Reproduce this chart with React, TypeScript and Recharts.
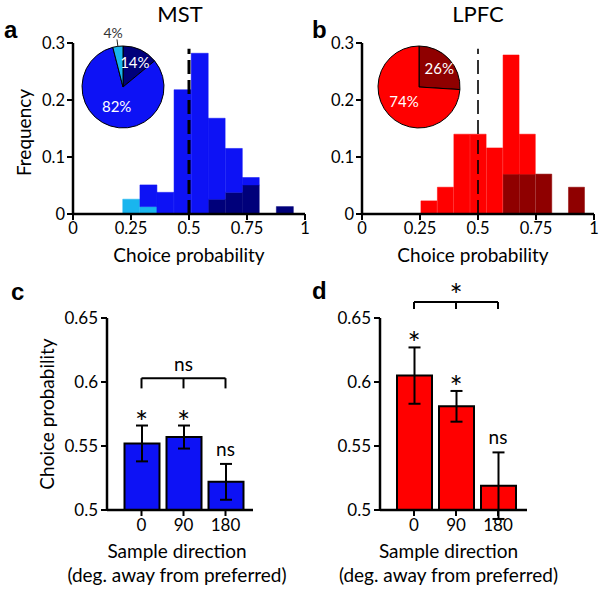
import React from 'react';
import {
  ComposedChart,
  Bar,
  XAxis,
  YAxis,
  ReferenceLine,
  PieChart,
  Pie,
  Cell,
  ErrorBar,
  Line,
} from 'recharts';

const FONT = 'Lato, "Open Sans", sans-serif';

// ---------- Panel a: MST histogram ----------
const mstBinCenters = [0.251, 0.325, 0.398, 0.472, 0.546, 0.619, 0.693, 0.766, 0.84, 0.913];
const mstNonSig = [0, 0.038, 0.038, 0.218, 0.282, 0.142, 0.077, 0.013, 0, 0];
const mstSigLow = [0.026, 0.013, 0, 0, 0, 0, 0, 0, 0, 0];
const mstSigHigh = [0, 0, 0, 0, 0, 0.026, 0.038, 0.051, 0, 0.013];

// ---------- Panel b: LPFC histogram ----------
const lpfcBinCenters = [0.289, 0.36, 0.431, 0.501, 0.572, 0.643, 0.713, 0.784, 0.854, 0.925];
const lpfcNonSig = [0.023, 0.047, 0.14, 0.14, 0.116, 0.209, 0.07, 0, 0, 0];
const lpfcSigLow = [0, 0, 0, 0, 0, 0, 0, 0, 0, 0];
const lpfcSigHigh = [0, 0, 0, 0, 0, 0.07, 0.07, 0.07, 0, 0.047];

const histTicks = [0, 0.25, 0.5, 0.75, 1];
const freqTicks = [0, 0.1, 0.2, 0.3];
const chanceLevel = 0.5;
const chanceLineTop = 0.29;

// ---------- Pie insets ----------
const mstPieNames = ['sigHigh', 'nonSig', 'sigLow'];
const mstPieValues = [14, 82, 4];
const lpfcPieNames = ['sigHigh', 'nonSig'];
const lpfcPieValues = [26, 74];

// ---------- Panels c, d: choice probability by direction ----------
const directions = ['0', '90', '180'];
const mstCP = [0.552, 0.557, 0.522];
const mstSEM = [0.014, 0.009, 0.014];
const mstSig = ['*', '*', 'ns'];
const mstGroupSig = 'ns';
const lpfcCP = [0.605, 0.581, 0.519];
const lpfcSEM = [0.022, 0.012, 0.026];
const lpfcSig = ['*', '*', 'ns'];
const lpfcGroupSig = '*';
const cpTicks = [0.5, 0.55, 0.6, 0.65];

// ---------- Colors ----------
const MST_COLORS = { nonSig: '#0d12f5', sigHigh: '#00007a', sigLow: '#19b5ee' };
const LPFC_COLORS = { nonSig: '#ff0000', sigHigh: '#8f0000', sigLow: '#ff8080' };

const mstHist = mstBinCenters.map((x, i) => ({
  x,
  sigLow: mstSigLow[i],
  sigHigh: mstSigHigh[i],
  nonSig: mstNonSig[i],
}));
const lpfcHist = lpfcBinCenters.map((x, i) => ({
  x,
  sigLow: lpfcSigLow[i],
  sigHigh: lpfcSigHigh[i],
  nonSig: lpfcNonSig[i],
}));
const mstPieData = mstPieNames.map((name, i) => ({ name, value: mstPieValues[i] }));
const lpfcPieData = lpfcPieNames.map((name, i) => ({ name, value: lpfcPieValues[i] }));
const mstBars = directions.map((dir, i) => ({
  dir,
  cp: mstCP[i],
  sem: mstSEM[i],
  top: mstCP[i] + mstSEM[i],
  sig: mstSig[i],
}));
const lpfcBars = directions.map((dir, i) => ({
  dir,
  cp: lpfcCP[i],
  sem: lpfcSEM[i],
  top: lpfcCP[i] + lpfcSEM[i],
  sig: lpfcSig[i],
}));

const histTickStyle = { fontSize: 16.5, fill: '#000', fontFamily: FONT };
const cpTickStyle = { fontSize: 17, fill: '#000', fontFamily: FONT };
const fmt = (v: number) => String(v);

const rotLabel = (text: string, baseX: number, dy = 0) => (props: any) => {
  const vb = props.viewBox || {};
  const x = (vb.x || 0) + baseX;
  const y = (vb.y || 0) + (vb.height || 0) / 2 + dy;
  return (
    <text
      x={x}
      y={y}
      transform={`rotate(-90, ${x}, ${y})`}
      textAnchor="middle"
      fontSize={19}
      fontFamily={FONT}
      fill="#000"
    >
      {text}
    </text>
  );
};

const xLabel = (lines: string[], firstDy: number, gap: number, dx = 0) => (props: any) => {
  const vb = props.viewBox || {};
  const x = (vb.x || 0) + (vb.width || 0) / 2 + dx;
  const y = vb.y || 0;
  return (
    <g>
      {lines.map((l, i) => (
        <text
          key={i}
          x={x}
          y={y + firstDy + i * gap}
          textAnchor="middle"
          fontSize={19}
          fontFamily={FONT}
          fill="#000"
        >
          {l}
        </text>
      ))}
    </g>
  );
};

function Histogram({ data, colors, left, width, yAxisWidth, lineWidth, dash, labelDx }: any) {
  return (
    <div style={{ position: 'absolute', left, top: 0 }}>
      <ComposedChart
        width={width}
        height={275}
        data={data}
        margin={{ top: 43, right: width - (yAxisWidth + 232), bottom: 11, left: 0 }}
        barCategoryGap={0}
        barGap={0}
      >
        <XAxis
          type="number"
          dataKey="x"
          domain={[0, 1]}
          ticks={histTicks}
          tickFormatter={fmt}
          axisLine={{ stroke: '#000', strokeWidth: 2.5 }}
          tickLine={{ stroke: '#000', strokeWidth: 2 }}
          tickSize={6}
          tickMargin={2}
          tick={histTickStyle}
          height={50}
          interval={0}
          label={xLabel(['Choice probability'], 48, 0, labelDx)}
        />
        <YAxis
          type="number"
          domain={[0, 0.3]}
          ticks={freqTicks}
          tickFormatter={fmt}
          axisLine={{ stroke: '#000', strokeWidth: 2.5 }}
          tickLine={{ stroke: '#000', strokeWidth: 2 }}
          tickSize={6}
          tickMargin={2}
          tick={histTickStyle}
          width={yAxisWidth}
          interval={0}
          label={yAxisWidth > 72 ? rotLabel('Frequency', 31, 4) : undefined}
        />
        <Bar dataKey="sigLow" stackId="s" fill={colors.sigLow} stroke={colors.sigLow} strokeWidth={0.5} isAnimationActive={false} />
        <Bar dataKey="sigHigh" stackId="s" fill={colors.sigHigh} stroke={colors.sigHigh} strokeWidth={0.5} isAnimationActive={false} />
        <Bar dataKey="nonSig" stackId="s" fill={colors.nonSig} stroke={colors.nonSig} strokeWidth={0.5} isAnimationActive={false} />
        <ReferenceLine
          segment={[
            { x: chanceLevel, y: 0 },
            { x: chanceLevel, y: chanceLineTop },
          ]}
          stroke="#000"
          strokeWidth={lineWidth}
          strokeDasharray={dash}
        />
      </ComposedChart>
    </div>
  );
}

const pieLabelStyle: any = {
  sigHigh: { r: 0.68, color: '#fff' },
  nonSig: { r: 0.5, color: '#fff' },
  sigLow: { r: 1.35, color: '#333' },
};

const renderPieLabel = (props: any) => {
  const { cx, cy, midAngle, outerRadius, name, value } = props;
  const RAD = Math.PI / 180;
  const st = pieLabelStyle[name];
  const d = outerRadius * st.r;
  const x = cx + d * Math.cos(-midAngle * RAD);
  const y = cy + d * Math.sin(-midAngle * RAD);
  if (name === 'sigLow') {
    const x1 = cx + outerRadius * 1.0 * Math.cos(-midAngle * RAD);
    const y1 = cy + outerRadius * 1.0 * Math.sin(-midAngle * RAD);
    const x2 = cx + outerRadius * 1.17 * Math.cos(-midAngle * RAD);
    const y2 = cy + outerRadius * 1.17 * Math.sin(-midAngle * RAD);
    return (
      <g>
        <line x1={x1} y1={y1} x2={x2} y2={y2} stroke="#222" strokeWidth={1} />
        <text x={x - 3} y={y} textAnchor="middle" dominantBaseline="central" fontSize={14} fontFamily={FONT} fill={st.color}>
          {`${value}%`}
        </text>
      </g>
    );
  }
  return (
    <text x={x} y={y} textAnchor="middle" dominantBaseline="central" fontSize={15} fontFamily={FONT} fill={st.color}>
      {`${value}%`}
    </text>
  );
};

function Inset({ data, colors, left, top }: any) {
  return (
    <div style={{ position: 'absolute', left, top }}>
      <PieChart width={140} height={140} margin={{ top: 0, right: 0, bottom: 0, left: 0 }}>
        <Pie
          data={data}
          dataKey="value"
          nameKey="name"
          cx={70}
          cy={70}
          outerRadius={41}
          startAngle={90}
          endAngle={-270}
          stroke="#000"
          strokeWidth={1}
          isAnimationActive={false}
          labelLine={false}
          label={renderPieLabel}
        >
          {data.map((d: any, i: number) => (
            <Cell key={i} fill={colors[d.name]} />
          ))}
        </Pie>
      </PieChart>
    </div>
  );
}

const renderSig = (props: any) => {
  const { cx, cy, payload, index } = props;
  if (cx == null || cy == null) return <g key={index} />;
  const star = payload.sig === '*';
  return (
    <text
      key={index}
      x={cx}
      y={star ? cy + 7 : cy - 8}
      textAnchor="middle"
      fontSize={star ? 31 : 19}
      fontFamily={FONT}
      fill="#000"
    >
      {payload.sig}
    </text>
  );
};

function CPBars({ data, color, left, top, width, height, yAxisWidth, plotWidth, padLeft, padRight, groupSig, bracketY, bracketTick, sigOffset, sigSize, labelDx }: any) {
  const marginTop = height - 83 - 192;
  return (
    <div style={{ position: 'absolute', left, top }}>
      <ComposedChart
        width={width}
        height={height}
        data={data}
        margin={{ top: marginTop, right: width - yAxisWidth - plotWidth, bottom: 13, left: 0 }}
      >
        <XAxis
          dataKey="dir"
          type="category"
          padding={{ left: padLeft, right: padRight }}
          axisLine={{ stroke: '#000', strokeWidth: 2.5 }}
          tickLine={{ stroke: '#000', strokeWidth: 2 }}
          tickSize={6}
          tickMargin={3}
          tick={cpTickStyle}
          height={70}
          interval={0}
          label={xLabel(['Sample direction', '(deg. away from preferred)'], 48, 24, labelDx)}
        />
        <YAxis
          type="number"
          domain={[0.5, 0.65]}
          ticks={cpTicks}
          tickFormatter={fmt}
          allowDataOverflow
          axisLine={{ stroke: '#000', strokeWidth: 2.5 }}
          tickLine={{ stroke: '#000', strokeWidth: 2 }}
          tickSize={6}
          tickMargin={3}
          tick={cpTickStyle}
          width={yAxisWidth}
          interval={0}
          label={yAxisWidth < 108 ? rotLabel('Choice probability', 54, 0) : undefined}
        />
        <Bar dataKey="cp" fill={color} stroke="#000" strokeWidth={2} barSize={35} isAnimationActive={false}>
          <ErrorBar dataKey="sem" width={6} stroke="#000" strokeWidth={2} direction="y" />
        </Bar>
        <Line dataKey="top" stroke="none" dot={renderSig} activeDot={false} isAnimationActive={false} />
        <ReferenceLine
          segment={[
            { x: directions[0], y: bracketY },
            { x: directions[2], y: bracketY },
          ]}
          stroke="#000"
          strokeWidth={2}
          ifOverflow="visible"
          label={{ value: groupSig, position: 'top', offset: sigOffset, fontSize: sigSize, fill: '#000', fontFamily: FONT }}
        />
        {directions.map((d) => (
          <ReferenceLine
            key={d}
            segment={[
              { x: d, y: bracketY },
              { x: d, y: bracketTick },
            ]}
            stroke="#000"
            strokeWidth={2}
            ifOverflow="visible"
          />
        ))}
      </ComposedChart>
    </div>
  );
}

export default function App() {
  return (
    <div
      style={{
        position: 'absolute',
        left: 0,
        top: 0,
        width: 602,
        height: 593,
        background: '#fff',
        overflow: 'hidden',
        fontFamily: FONT,
      }}
    >
      <svg width={602} height={593} style={{ position: 'absolute', left: 0, top: 0 }}>
        <text x={180} y={22} textAnchor="middle" fontSize={22} fontFamily={FONT} fill="#000">MST</text>
        <text x={478} y={22} textAnchor="middle" fontSize={22} fontFamily={FONT} fill="#000">LPFC</text>
        <text x={4} y={38} fontSize={24} fontWeight="bold" fontFamily='"Liberation Sans", Arial, sans-serif' fill="#000">a</text>
        <text x={312} y={38} fontSize={24} fontWeight="bold" fontFamily='"Liberation Sans", Arial, sans-serif' fill="#000">b</text>
        <text x={11} y={300} fontSize={24} fontWeight="bold" fontFamily='"Liberation Sans", Arial, sans-serif' fill="#000">c</text>
        <text x={312} y={299} fontSize={24} fontWeight="bold" fontFamily='"Liberation Sans", Arial, sans-serif' fill="#000">d</text>
      </svg>
      <Histogram data={mstHist} colors={MST_COLORS} left={0} width={315} yAxisWidth={73} lineWidth={3} dash="14 6" labelDx={0} />
      <Histogram data={lpfcHist} colors={LPFC_COLORS} left={290} width={310} yAxisWidth={72} lineWidth={1.6} dash="14 6" labelDx={-5} />
      <Inset data={mstPieData} colors={MST_COLORS} left={53} top={17} />
      <Inset data={lpfcPieData} colors={LPFC_COLORS} left={349} top={17} />
      <CPBars
        data={mstBars}
        color={MST_COLORS.nonSig}
        left={0}
        top={290}
        width={300}
        height={303}
        yAxisWidth={107}
        plotWidth={146}
        padLeft={13.5}
        padRight={6.5}
        groupSig={mstGroupSig}
        bracketY={0.603}
        bracketTick={0.595}
        sigOffset={7}
        sigSize={19}
        labelDx={-3}
      />
      <CPBars
        data={lpfcBars}
        color={LPFC_COLORS.nonSig}
        left={270}
        top={270}
        width={320}
        height={323}
        yAxisWidth={110}
        plotWidth={147}
        padLeft={13}
        padRight={8}
        groupSig={lpfcGroupSig}
        bracketY={0.6625}
        bracketTick={0.657}
        sigOffset={-4}
        sigSize={31}
        labelDx={-5}
      />
    </div>
  );
}
